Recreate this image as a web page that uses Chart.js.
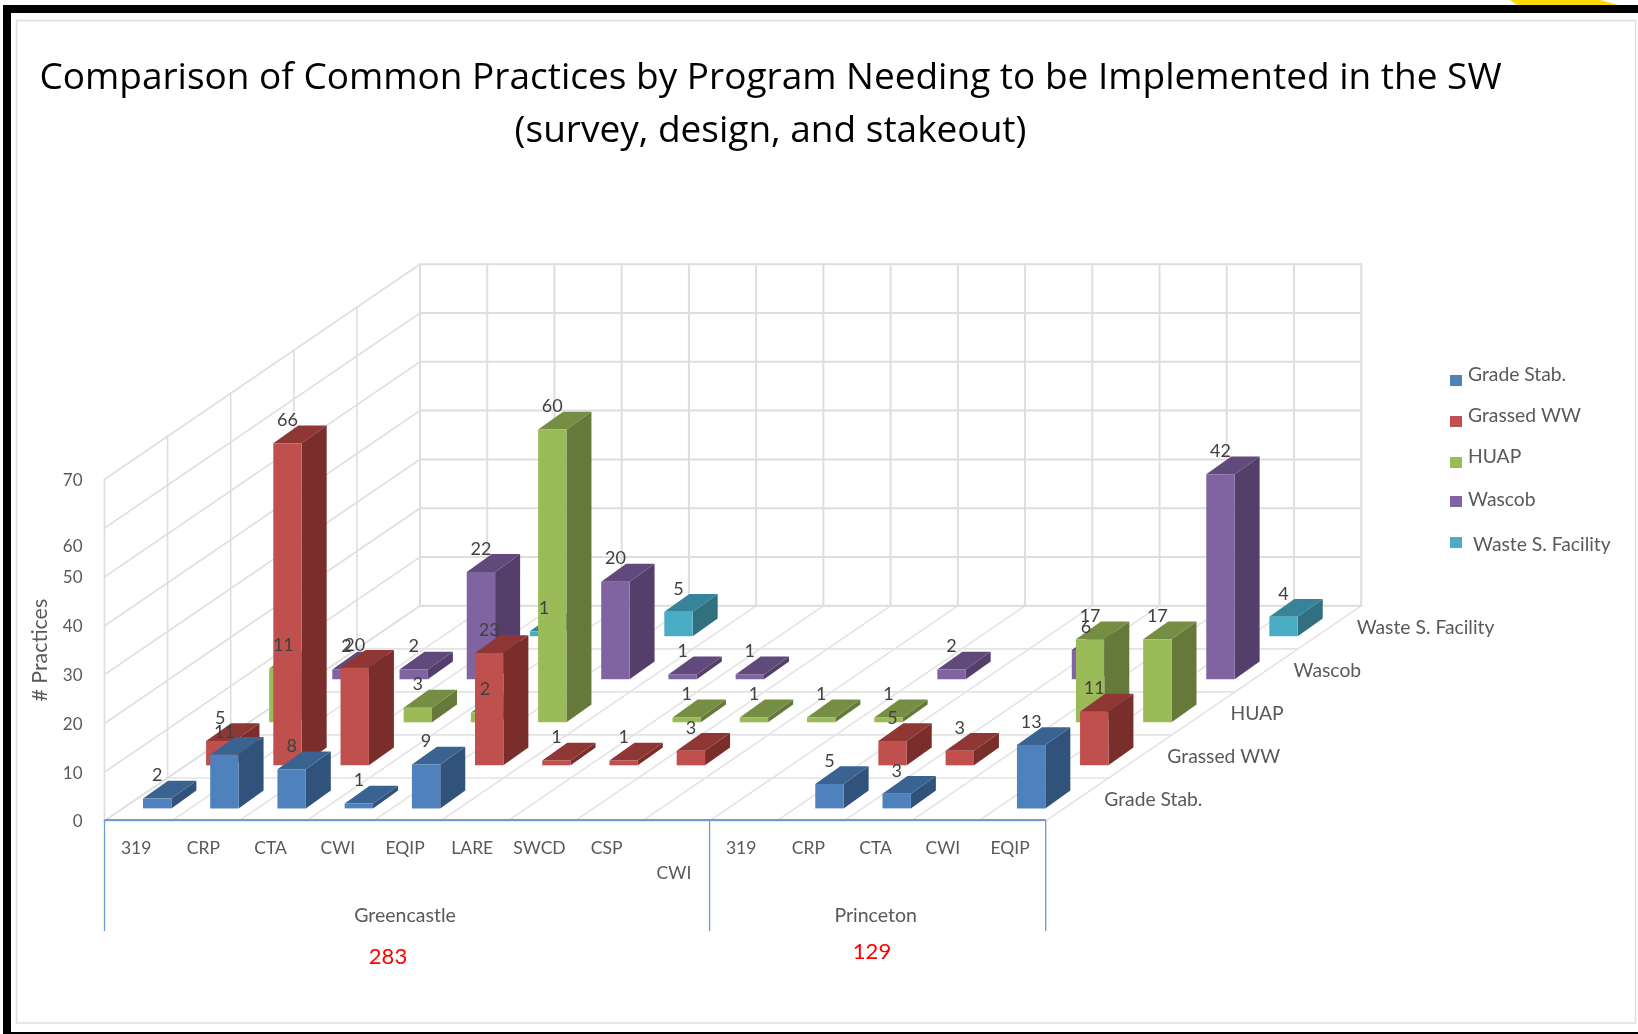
<!DOCTYPE html>
<html><head><meta charset="utf-8">
<style>html,body{margin:0;padding:0;background:#fff}#w{position:absolute;left:0;top:0;width:1638px;height:1034px}</style>
<script src="https://cdn.jsdelivr.net/npm/chart.js@4/dist/chart.umd.min.js"></script>
</head><body><div id="w"><canvas id="c" width="1638" height="1034"></canvas></div>
<script>
const categories=['319','CRP','CTA','CWI','EQIP','LARE','SWCD','CSP','CWI','319','CRP','CTA','CWI','EQIP'];
const groupNames=['Greencastle','Princeton'];
const groupSizes=[9,5];
const groupTotals=['283','129'];
const seriesNames=['Grade Stab.','Grassed WW','HUAP','Wascob','Waste S. Facility'];
const gradeStab=[2,11,8,1,9,null,null,null,null,null,5,3,null,13];
const grassedWW=[5,66,20,null,23,1,1,3,null,null,5,3,null,11];
const huap=[11,null,3,2,60,null,1,1,1,1,null,null,17,17];
const wascob=[2,2,22,null,20,1,1,null,null,2,null,6,null,42];
const wasteFacility=[null,null,1,null,5,null,null,null,null,null,null,null,null,4];
const yTicks=[0,10,20,30,40,50,60,70];
const chartTitle=['Comparison of Common Practices by Program Needing to be Implemented in the SW','(survey, design, and stakeout)'];
const yAxisTitle='# Practices';

const seriesValues=[gradeStab,grassedWW,huap,wascob,wasteFacility];
const faces=[['#4F81BD','#31527A','#3B6392'],['#C0504D','#7A2E2C','#8F3735'],['#9BBB59','#657A3A','#768E43'],['#8064A2','#533F6A','#604A7B'],['#4BACC6','#31707F','#37849A']];
const DEPTH_X=315.5,DEPTH_Y=215.2,BAR_DX=25,BAR_DY=17.8,ROWS=5;
const TXT='#595959',LBL='#404040',FONT='Lato, Carlito, sans-serif';
const rowShift=r=>({x:(r+.5)*DEPTH_X/ROWS-BAR_DX/2,y:-(r+.5)*DEPTH_Y/ROWS+BAR_DY/2});
function line(ctx,x1,y1,x2,y2){ctx.beginPath();ctx.moveTo(x1,y1);ctx.lineTo(x2,y2);ctx.stroke();}
function poly(ctx,pts,fill){ctx.fillStyle=fill;ctx.beginPath();pts.forEach((p,i)=>i?ctx.lineTo(p[0],p[1]):ctx.moveTo(p[0],p[1]));ctx.closePath();ctx.fill();}

const scene={
 id:'scene',
 afterLayout(chart){chart.titleBlock.left=0;chart.titleBlock.right=1541;},
 beforeDraw(chart){
  const c=chart.ctx;c.save();
  c.fillStyle='#fff';c.fillRect(0,0,1638,1034);
  poly(c,[[1510,0],[1600,0],[1618,5],[1517,5]],'#FFD800');
  c.fillStyle='#000';
  c.fillRect(3,5,1635,8);c.fillRect(3,5,8,1029);c.fillRect(3,1032,1635,2);
  c.strokeStyle='#DEDEDE';c.lineWidth=1.5;c.strokeRect(16.5,20.5,1619,1002.5);
  c.restore();
 },
 beforeDatasetsDraw(chart){
  const c=chart.ctx,X=chart.scales.x,Y=chart.scales.y,L=X.left,R=X.right,B=Y.bottom,w=X.width/categories.length;
  c.save();c.lineCap='square';
  c.strokeStyle='#E3E3E3';c.lineWidth=1.6;
  for(let k=0;k<=categories.length;k++)line(c,L+k*w,B,L+k*w+DEPTH_X,B-DEPTH_Y);
  for(let r=0;r<=ROWS;r++){const dx=r*DEPTH_X/ROWS,dy=r*DEPTH_Y/ROWS;line(c,L+dx,B-dy,R+dx,B-dy);}
  c.strokeStyle='#DEDEDE';
  yTicks.forEach(v=>{const y=Y.getPixelForValue(v);line(c,L,y,L+DEPTH_X,y-DEPTH_Y);});
  for(let r=0;r<ROWS;r++){const dx=r*DEPTH_X/ROWS,dy=r*DEPTH_Y/ROWS;line(c,L+dx,B-dy,L+dx,Y.top-dy);}
  c.strokeStyle='#DEDEDE';c.lineWidth=2;
  yTicks.forEach(v=>{const y=Y.getPixelForValue(v)-DEPTH_Y;line(c,L+DEPTH_X,y,R+DEPTH_X,y);});
  for(let k=0;k<=categories.length;k++){const x=L+k*w+DEPTH_X;line(c,x,B-DEPTH_Y,x,Y.top-DEPTH_Y);}
  c.restore();
 },
 beforeDatasetDraw(chart,args){
  const c=chart.ctx,s=rowShift(args.index),f=faces[args.index];
  c.save();c.translate(s.x,s.y);
  args.meta.data.forEach((el,i)=>{
   if(seriesValues[args.index][i]==null)return;
   const p=el.getProps(['x','y','base','width']),l=p.x-p.width/2,r=p.x+p.width/2;
   poly(c,[[r,p.y],[r+BAR_DX,p.y-BAR_DY],[r+BAR_DX,p.base-BAR_DY],[r,p.base]],f[1]);
   poly(c,[[l,p.y],[l+BAR_DX,p.y-BAR_DY],[r+BAR_DX,p.y-BAR_DY],[r,p.y]],f[2]);
  });
 },
 afterDatasetDraw(chart){chart.ctx.restore();},
 afterDatasetsDraw(chart){
  const c=chart.ctx,X=chart.scales.x,Y=chart.scales.y,L=X.left,R=X.right,B=Y.bottom,w=X.width/categories.length;
  c.save();c.textAlign='center';c.textBaseline='middle';
  // value labels
  c.font='18px '+FONT;c.fillStyle=LBL;
  seriesValues.forEach((vals,r)=>{const s=rowShift(r);
   vals.forEach((v,i)=>{if(v==null)return;
    c.fillText(String(v),X.getPixelForValue(i)+s.x,Y.getPixelForValue(v)+s.y-23);});});
  // moved 60 tick
  c.textAlign='right';c.fillStyle=TXT;c.font='17px '+FONT;
  c.fillText('60',82.5,Y.getPixelForValue(60)+18.5);
  // multi-level axis brackets
  c.strokeStyle='#6F9BD0';c.lineWidth=2;line(c,L,B-1,R,B-1);
  c.lineWidth=1.3;
  let start=0;line(c,L,B-1,L,931);
  c.textAlign='center';
  groupNames.forEach((g,n)=>{
   const end=start+groupSizes[n],x=L+end*w;
   line(c,x,B-1,x,931);
   c.fillStyle=TXT;c.font='19.5px '+FONT;
   c.fillText(g,L+(start+end)/2*w-2,916);
   start=end;});
  // hand-written totals
  c.fillStyle='#FF0000';c.font='22px '+FONT;
  c.fillText(groupTotals[0],388,957);c.fillText(groupTotals[1],872,952);
  // depth axis labels
  c.textAlign='left';c.fillStyle=TXT;c.font='19.3px '+FONT;
  seriesNames.forEach((n,r)=>{
   c.fillText(n,R+(r+.5)*DEPTH_X/ROWS+27,B-(r+.5)*DEPTH_Y/ROWS);});
  // legend
  const lgY=[375,416,457,500,545],lgB=[380,421,462,501,542],lgT=[1468,1468,1468,1468,1473];
  seriesNames.forEach((n,r)=>{
   c.fillStyle=faces[r][0];c.fillRect(1450,lgB[r]-5,12,11);
   c.fillStyle=TXT;c.font='19.3px '+FONT;c.fillText(n,lgT[r],lgY[r]);});
  c.restore();
 }
};

new Chart(document.getElementById('c'),{
 type:'bar',
 data:{labels:categories,datasets:seriesNames.map((n,r)=>({label:n,data:seriesValues[r],backgroundColor:faces[r][0],borderWidth:0,clip:false,grouped:false,categoryPercentage:1,barPercentage:.422}))},
 options:{responsive:false,animation:false,
  layout:{padding:{left:0,top:0,right:592.3,bottom:0}},
  plugins:{legend:{display:false},tooltip:{enabled:false},
   title:{display:true,text:chartTitle,color:'#000',align:'center',font:{family:'"Open Sans", sans-serif',size:37,weight:'normal',lineHeight:53/37},padding:{top:52,bottom:321.4}}},
  scales:{
   x:{grid:{display:false,drawTicks:false},border:{display:false},
      afterFit(s){s.height=213;},
      ticks:{autoSkip:false,maxRotation:0,minRotation:0,padding:15,labelOffset:-2,color:TXT,font:{family:FONT,size:17.5,lineHeight:25/17.5},
       callback(v,i){const t=this.getLabelForValue(v);return i===8?['',t]:t;}}},
   y:{min:0,max:70,grid:{display:false,drawTicks:false},border:{display:false},
      afterFit(s){s.width=104.5;},
      title:{display:true,text:yAxisTitle,color:TXT,font:{family:FONT,size:21.4},padding:{top:27,bottom:0}},
      ticks:{stepSize:10,padding:22,labelOffset:1,color:TXT,font:{family:FONT,size:17},callback(v){return v===60?'':v;}}}
  }
 },
 plugins:[scene]
});
</script></body></html>
